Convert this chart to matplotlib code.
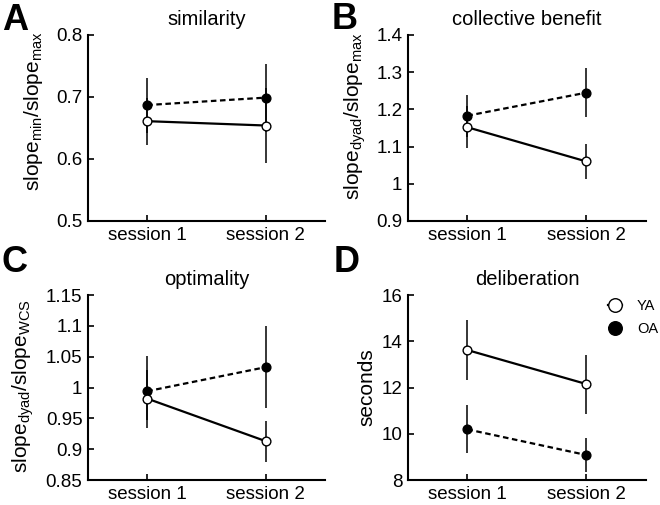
import numpy as np
from matplotlib import pyplot as plt

plt.rcParams['font.family'] = ['Liberation Sans', 'DejaVu Sans']
plt.rcParams['mathtext.fontset'] = 'custom'
plt.rcParams['mathtext.rm'] = 'Liberation Sans'

sessions = [1, 2]
session_labels = ['session 1', 'session 2']

# values: mean, lower end, upper end of error bar
sim_ya = [0.661, 0.654]
sim_ya_lo = [0.623, 0.594]
sim_ya_hi = [0.699, 0.714]
sim_oa = [0.687, 0.699]
sim_oa_lo = [0.642, 0.644]
sim_oa_hi = [0.731, 0.754]

cb_ya = [1.152, 1.060]
cb_ya_lo = [1.095, 1.013]
cb_ya_hi = [1.209, 1.107]
cb_oa = [1.183, 1.245]
cb_oa_lo = [1.127, 1.179]
cb_oa_hi = [1.239, 1.311]

opt_ya = [0.982, 0.913]
opt_ya_lo = [0.935, 0.880]
opt_ya_hi = [1.029, 0.946]
opt_oa = [0.994, 1.033]
opt_oa_lo = [0.947, 0.967]
opt_oa_hi = [1.051, 1.099]

del_ya = [13.62, 12.15]
del_ya_lo = [12.32, 10.85]
del_ya_hi = [14.92, 13.41]
del_oa = [10.19, 9.08]
del_oa_lo = [9.18, 8.36]
del_oa_hi = [11.24, 9.80]

panels = [
    ('A', 'similarity', r'slope$_{\mathregular{min}}$/slope$_{\mathregular{max}}$',
     (0.5, 0.8), [0.5, 0.6, 0.7, 0.8], ['0.5', '0.6', '0.7', '0.8'],
     (sim_ya, sim_ya_lo, sim_ya_hi), (sim_oa, sim_oa_lo, sim_oa_hi)),
    ('B', 'collective benefit', r'slope$_{\mathregular{dyad}}$/slope$_{\mathregular{max}}$',
     (0.9, 1.4), [0.9, 1.0, 1.1, 1.2, 1.3, 1.4], ['0.9', '1', '1.1', '1.2', '1.3', '1.4'],
     (cb_ya, cb_ya_lo, cb_ya_hi), (cb_oa, cb_oa_lo, cb_oa_hi)),
    ('C', 'optimality', r'slope$_{\mathregular{dyad}}$/slope$_{\mathregular{WCS}}$',
     (0.85, 1.15), [0.85, 0.9, 0.95, 1.0, 1.05, 1.1, 1.15],
     ['0.85', '0.9', '0.95', '1', '1.05', '1.1', '1.15'],
     (opt_ya, opt_ya_lo, opt_ya_hi), (opt_oa, opt_oa_lo, opt_oa_hi)),
    ('D', 'deliberation', 'seconds',
     (8, 16), [8, 10, 12, 14, 16], ['8', '10', '12', '14', '16'],
     (del_ya, del_ya_lo, del_ya_hi), (del_oa, del_oa_lo, del_oa_hi)),
]

positions = [
    [0.1333, 0.5624, 0.359, 0.3683],
    [0.618, 0.5624, 0.3606, 0.3683],
    [0.1333, 0.0495, 0.359, 0.3663],
    [0.618, 0.0495, 0.3606, 0.3663],
]
label_pos = [(0.003, 0.94), (0.503, 0.943), (0.003, 0.462), (0.505, 0.462)]
ylabel_pos = [(-0.232, 0.59), (-0.223, 0.565), (-0.274, 0.51), (-0.172, 0.50)]

fig = plt.figure(figsize=(6.6, 5.05), dpi=100)

for (letter, title, ylabel, ylim, yticks, yticklabels, ya, oa), pos, lp, yp in zip(
        panels, positions, label_pos, ylabel_pos):
    ax = fig.add_axes(pos)
    for vals, lo, hi in [oa, ya]:
        v = np.array(vals)
        err = [v - np.array(lo), np.array(hi) - v]
        ax.errorbar(sessions, v, yerr=err, fmt='none', ecolor='black', elinewidth=1.1, capsize=0)
    ax.plot(sessions, oa[0], color='black', lw=1.6, dashes=(2.5, 1.6), marker='o',
            markersize=6.3, markerfacecolor='black', markeredgecolor='black',
            markeredgewidth=1.0, label='OA', zorder=3)
    ax.plot(sessions, ya[0], color='black', lw=1.6, linestyle='-', marker='o',
            markersize=6.3, markerfacecolor='white', markeredgecolor='black',
            markeredgewidth=1.0, label='YA', zorder=3)
    ax.set_xlim(0.5, 2.5)
    ax.set_ylim(*ylim)
    ax.set_xticks(sessions)
    ax.set_xticklabels(session_labels)
    ax.set_yticks(yticks)
    ax.set_yticklabels(yticklabels)
    ax.spines['top'].set_visible(False)
    ax.spines['right'].set_visible(False)
    ax.spines['left'].set_linewidth(1.5)
    ax.spines['bottom'].set_linewidth(1.5)
    ax.tick_params(direction='in', length=4, width=1.2, labelsize=13.5, pad=4)
    ax.set_title(title, fontsize=14.5, pad=7)
    ax.set_ylabel(ylabel, fontsize=15)
    ax.yaxis.label.set_verticalalignment('center')
    ax.yaxis.set_label_coords(*yp)
    fig.text(lp[0], lp[1], letter, fontsize=26, fontweight='bold', va='baseline', ha='left')
    if letter == 'D':
        h, l = ax.get_legend_handles_labels()
        ax.legend(h[::-1], l[::-1], loc='upper left', bbox_to_anchor=(0.921, 0.408),
                  bbox_transform=fig.transFigure, frameon=False, borderpad=0,
                  borderaxespad=0, handlelength=1.0, handletextpad=1.0, fontsize=10.5,
                  markerscale=1.55, labelspacing=0.65)

fig.savefig('out.png', dpi=100)
